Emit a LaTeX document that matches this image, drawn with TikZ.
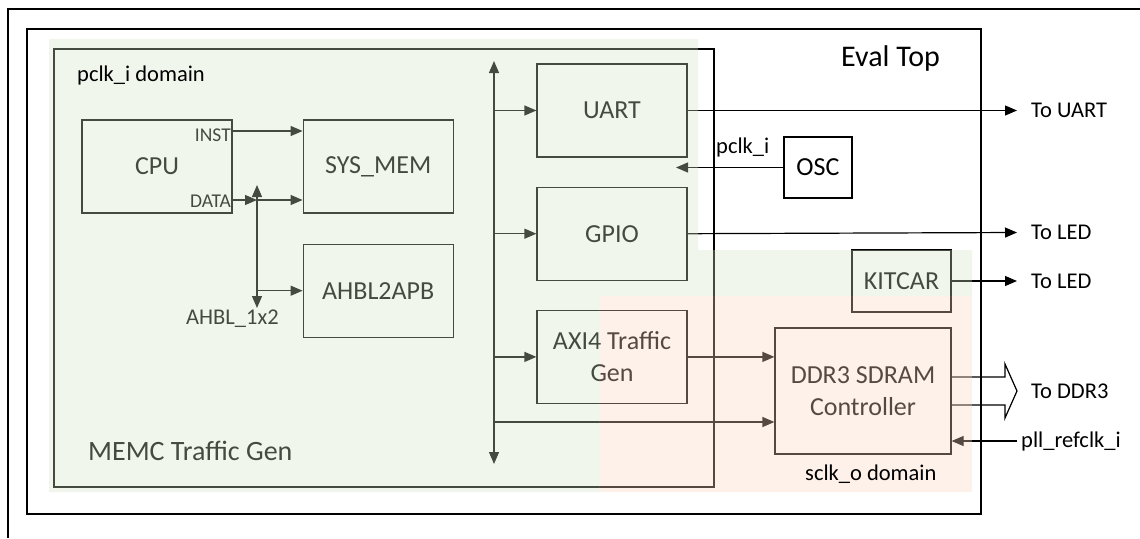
\documentclass[tikz,border=0pt]{standalone}
\usepackage{fontspec}
\setmainfont{Carlito}
\usetikzlibrary{arrows.meta,positioning}

\definecolor{pclkgreen}{RGB}{212,227,197}
\definecolor{sclkorange}{RGB}{250,215,192}

\tikzset{
	framebox/.style={draw, line width=1.2pt},
	block/.style={draw, line width=1.2pt, minimum width=150pt, minimum height=93pt, inner sep=0pt, align=center, font=\fontsize{26}{32}\selectfont},
	portlbl/.style={inner sep=0pt, font=\fontsize{19.5}{22}\selectfont},
	sidelbl/.style={inner sep=0pt, font=\fontsize{22.5}{26}\selectfont},
	bigtext/.style={inner sep=0pt, font=\fontsize{30}{34}\selectfont},
	extlbl/.style={anchor=west, inner xsep=14pt, inner ysep=0pt, font=\fontsize{22.5}{26}\selectfont},
	sig/.style={line width=1.2pt, -{Triangle[length=12pt,width=10pt]}},
	bus/.style={line width=1.2pt, {Triangle[length=12pt,width=10pt]}-{Triangle[length=12pt,width=10pt]}},
	wire/.style={line width=1.2pt},
}

\begin{document}
\begin{tikzpicture}[x=1pt, y=-1pt]
	\useasboundingbox (0,0) rectangle (1140,538);
	\draw[framebox, line width=1.6pt] (8,538) -- (8,9) -- (1140,9);
	\draw[framebox] (27,29) rectangle (981,514);
	\node[bigtext, anchor=base west] (evallbl) at (841,66) {Eval Top};
	\draw[framebox] (54,49) rectangle (714,487);
	\node[bigtext, font=\fontsize{28}{32}\selectfont, anchor=base west] (memclbl) at (88,460) {MEMC Traffic Gen};

	\node[block] (cpu) at (157,166.5) {CPU};
	\node[block, right=70pt of cpu] (sysmem) {SYS\_MEM};
	\node[block, below=30pt of sysmem] (ahbl) {AHBL2APB};
	\node[block] (uart) at (612,110.5) {UART};
	\node[block, below=29pt of uart] (gpio) {GPIO};
	\node[block, below=29pt of gpio] (axi) {AXI4 Traffic\\Gen};
	\node[block, minimum width=68pt, minimum height=61pt] (osc) at (818,167.5) {OSC};
	\node[block, minimum width=99pt, minimum height=62pt] (kitcar) at (901.5,281) {KITCAR};
	\node[block, minimum width=176pt, minimum height=126pt] (ddr) at (863,391) {DDR3 SDRAM\\Controller};

	\node[portlbl, anchor=base east] (inst) at (231,141) {INST};
	\node[portlbl, anchor=base east] (data) at (231,207) {DATA};
	\node[sidelbl, anchor=base west] (ahblx) at (186,324) {AHBL\_1x2};

	\coordinate (xbtop) at (257,185);
	\coordinate (xbbot) at (257,308);
	\draw[bus] (xbtop) -- (xbbot);
	\draw[sig] (cpu.east |- 0,131) -- (sysmem.west |- 0,131);
	\draw[sig] (cpu.east |- 0,200) -- (xbtop |- 0,200);
	\draw[sig] (xbtop |- 0,200) -- (sysmem.west |- 0,200);
	\draw[sig] (xbtop |- ahbl.west) -- (ahbl.west);

	\coordinate (mbtop) at (494,61);
	\coordinate (mbbot) at (494,464);
	\draw[bus] (mbtop) -- (mbbot);
	\foreach \blk in {uart,gpio,axi}
		\draw[sig] (mbtop |- \blk.west) -- (\blk.west);
	\draw[sig] (mbtop |- 0,422) -- (ddr.west |- 0,422);
	\draw[sig] (axi.east) -- (axi.east -| ddr.west);

	\coordinate (pclkend) at (676,168);
	\draw[sig] (osc.west) -- (osc.west -| pclkend);
	\node[sidelbl, anchor=base west] (pclklbl) at (716,153) {pclk\_i};

	\node[extlbl] (touart) at (1017,110.5) {To UART};
	\node[extlbl] (toled) at (1017,232.5) {To LED};
	\node[extlbl] (kitled) at (1017,281) {To LED};
	\node[extlbl] (toddr) at (1017,391) {To DDR3};
	\node[extlbl, inner xsep=4pt] (pllclk) at (1017,441) {pll\_refclk\_i};
	\draw[sig] (uart.east) -- (touart.west);
	\draw[sig] (gpio.east) -- (toled.west);
	\draw[sig] (kitcar.east) -- (kitled.west);
	\draw[sig] (pllclk.west) -- (pllclk.west -| ddr.east);
	\draw[wire] (ddr.east |- 0,377) -- (1005,377) -- (1005,364) -- (toddr.west)
		-- (1005,418) -- (1005,405) -- (ddr.east |- 0,405);

	\fill[pclkgreen, fill opacity=0.33] (49,39) -- (698,39) -- (698,250) -- (972,250)
		-- (972,296) -- (599,296) -- (599,492) -- (49,492) -- cycle;
	\fill[sclkorange, fill opacity=0.34] (599,296) rectangle (972,492);

	\node[sidelbl, anchor=base west] (pclkdom) at (77,81) {pclk\_i domain};
	\node[sidelbl, anchor=base west] (sclkdom) at (805,480) {sclk\_o domain};
\end{tikzpicture}
\end{document}
